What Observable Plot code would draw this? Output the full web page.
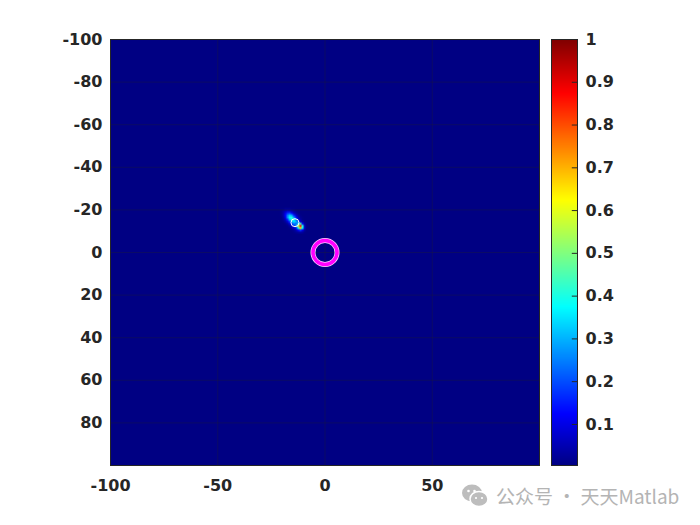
<!DOCTYPE html>
<html>
<head>
<meta charset="utf-8">
<script src="https://cdn.jsdelivr.net/npm/d3@7"></script>
<script src="https://cdn.jsdelivr.net/npm/@observablehq/plot@0.6"></script>
<style>
  body { margin: 0; background: #fff; }
  #wrap { position: relative; width: 700px; height: 525px; overflow: hidden; }
  #wrap svg { position: absolute; left: 0; top: 0; }
  #wm { position: absolute; left: 461px; top: 482px; display: flex; align-items: center;
        font-family: "Noto Sans CJK SC", "Noto Sans", sans-serif; font-size: 19px; color: #b4b4b4; white-space: nowrap; }
  #wm svg { position: static; margin-right: 7px; }
</style>
</head>
<body>
<div id="wrap"></div>
<script>
// ---- data ----
const xTicks = [-100, -50, 0, 50];
const yTicks = [-100, -80, -60, -40, -20, 0, 20, 40, 60, 80];
const cbTicks = [0.1, 0.2, 0.3, 0.4, 0.5, 0.6, 0.7, 0.8, 0.9, 1];
const axisLimits = [-100, 100];
const gridMin = -100;          // first grid cell (left / top edge)
const gridSize = 200;          // cells per side
const background = 0.004;      // field value away from the hot spot
// hot spot patch (rows y = -21..-10, columns x = -21..-10)
const blobX0 = -21, blobY0 = -21;
const blob = [
  [0.01,0.01,0.02,0.02,0.02,0.01,0.01,0.00,0.00,0.00,0.00,0.00],
  [0.01,0.03,0.05,0.07,0.06,0.04,0.02,0.01,0.00,0.00,0.00,0.00],
  [0.01,0.04,0.10,0.16,0.18,0.12,0.06,0.03,0.01,0.00,0.00,0.00],
  [0.01,0.04,0.12,0.24,0.32,0.28,0.15,0.07,0.03,0.01,0.00,0.00],
  [0.00,0.03,0.10,0.26,0.38,0.40,0.28,0.13,0.05,0.02,0.01,0.00],
  [0.00,0.02,0.06,0.16,0.32,0.42,0.38,0.24,0.10,0.04,0.01,0.00],
  [0.00,0.01,0.03,0.08,0.18,0.30,0.35,0.30,0.22,0.09,0.03,0.01],
  [0.00,0.00,0.01,0.03,0.08,0.18,0.25,0.22,0.36,0.46,0.14,0.03],
  [0.00,0.00,0.00,0.01,0.03,0.07,0.15,0.30,0.58,0.88,0.42,0.06],
  [0.00,0.00,0.00,0.00,0.01,0.03,0.06,0.14,0.38,0.66,0.36,0.06],
  [0.00,0.00,0.00,0.00,0.00,0.01,0.02,0.05,0.11,0.18,0.10,0.03],
  [0.00,0.00,0.00,0.00,0.00,0.00,0.01,0.02,0.03,0.04,0.03,0.01]
];
const hotMarker = [{x: -14, y: -14}];
const targetMarker = [{x: 0, y: 0}];
// jet colormap stops
const jetStops = [0, 0.125, 0.375, 0.625, 0.875, 1];
const jetColors = ["#00007f", "#0000ff", "#00ffff", "#ffff00", "#ff0000", "#7f0000"];

// ---- build field ----
const field = new Array(gridSize * gridSize).fill(background);
blob.forEach((row, r) => row.forEach((v, c) => {
  const col = (blobX0 + c) - gridMin, rr = (blobY0 + r) - gridMin;
  field[rr * gridSize + col] = Math.max(background, v);
}));
const lo = gridMin, hi = gridMin + gridSize;

const colorOpts = {type: "linear", domain: jetStops, range: jetColors, interpolate: "rgb", clamp: true};
const fontStyle = {fontFamily: "DejaVu Sans", fontSize: "16px", fontWeight: "bold", color: "#262626", background: "transparent", overflow: "visible"};
const fmt = d => String(d);

const main = Plot.plot({
  width: 700, height: 525,
  marginLeft: 110, marginRight: 161, marginTop: 39, marginBottom: 60,
  x: {domain: axisLimits},
  y: {domain: axisLimits, reverse: true},
  color: colorOpts,
  style: fontStyle,
  marks: [
    Plot.raster(field, {width: gridSize, height: gridSize, x1: lo, x2: hi, y1: lo, y2: hi, fill: Plot.identity, imageRendering: "auto"}),
    Plot.ruleX(xTicks, {stroke: "#262626", strokeOpacity: 0.3}),
    Plot.ruleY(yTicks, {stroke: "#262626", strokeOpacity: 0.3}),
    Plot.dot(hotMarker, {x: "x", y: "y", r: 4, stroke: "white", strokeWidth: 1}),
    Plot.dot(targetMarker, {x: "x", y: "y", r: 12, stroke: "#ffd0ff", strokeWidth: 5}),
    Plot.dot(targetMarker, {x: "x", y: "y", r: 12, stroke: "#ff00ff", strokeWidth: 3.6}),
    Plot.frame({stroke: "#262626"}),
    Plot.axisX({ticks: xTicks, tickSize: 0, tickPadding: 14, tickFormat: fmt, label: null}),
    Plot.axisY({ticks: yTicks, tickSize: 0, tickPadding: 8, tickFormat: fmt, label: null})
  ]
});

const cbValues = d3.range(256).map(i => background + (1 - background) * (i + 0.5) / 256);
const cbar = Plot.plot({
  width: 700, height: 525,
  marginLeft: 551, marginRight: 123, marginTop: 39, marginBottom: 60,
  x: {domain: [0, 1], axis: null},
  y: {domain: [background, 1]},
  color: colorOpts,
  style: fontStyle,
  marks: [
    Plot.raster(cbValues, {width: 1, height: 256, x1: 0, x2: 1, y1: background, y2: 1, fill: Plot.identity, imageRendering: "auto"}),
    Plot.ruleY(cbTicks.filter(t => t < 1), {x1: 0.8, x2: 1, stroke: "#262626"}),
    Plot.frame({stroke: "#262626"}),
    Plot.axisY({anchor: "right", ticks: cbTicks, tickSize: 0, tickPadding: 8, tickFormat: fmt, label: null})
  ]
});

const wrap = document.getElementById("wrap");
wrap.appendChild(main);
wrap.appendChild(cbar);

const wm = document.createElement("div");
wm.id = "wm";
wm.innerHTML = `<svg width="28" height="26" viewBox="0 0 28 26">
  <ellipse cx="11" cy="10" rx="10" ry="8.5" fill="#bdbdbd"/>
  <ellipse cx="18" cy="16" rx="9" ry="7.5" fill="#bdbdbd" stroke="#fff" stroke-width="1.5"/>
  <circle cx="7.5" cy="8" r="1.3" fill="#fff"/><circle cx="13.5" cy="8" r="1.3" fill="#fff"/>
  <circle cx="15" cy="15" r="1.1" fill="#fff"/><circle cx="21" cy="15" r="1.1" fill="#fff"/>
</svg><span>公众号 · 天天Matlab</span>`;
wrap.appendChild(wm);
</script>
</body>
</html>
